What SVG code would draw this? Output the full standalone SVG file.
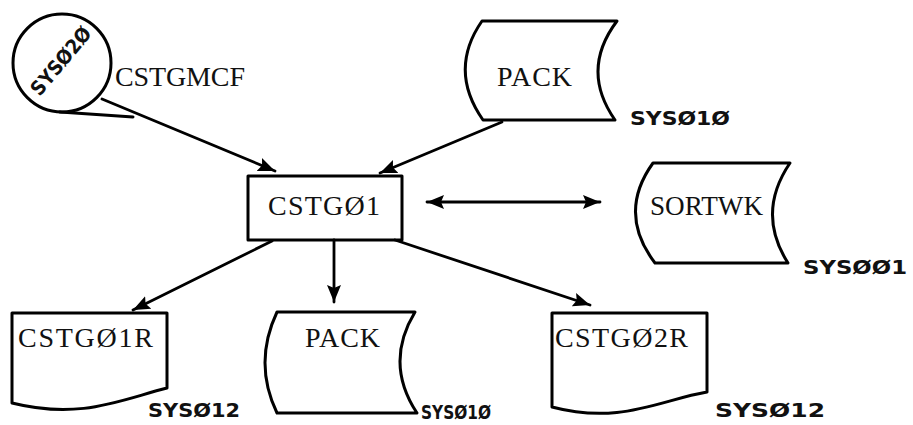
<svg xmlns="http://www.w3.org/2000/svg" width="913" height="425" viewBox="0 0 913 425">
<style>
.shape{fill:none;stroke:#000;stroke-width:3;stroke-linejoin:round;stroke-linecap:round}
.lbl{font-family:"Liberation Serif","Times New Roman",serif;font-size:28px;fill:#111}
.hand{font-family:"DejaVu Sans","Liberation Sans",sans-serif;font-weight:bold;font-size:20px;fill:#111}
.conn{fill:none;stroke:#000;stroke-width:2.8;stroke-linecap:round}
</style>
<defs>
<marker id="ah" markerUnits="userSpaceOnUse" markerWidth="20" markerHeight="16" refX="17" refY="8" orient="auto-start-reverse">
<path d="M0,1 L17,8 L0,15 L3,8 Z" fill="#000"/>
</marker>
</defs>
<rect width="913" height="425" fill="#fff"/>
<g id="connectors">
<line class="conn" x1="102" y1="99" x2="275" y2="171" marker-end="url(#ah)"/>
<line class="conn" x1="502" y1="122" x2="380" y2="173" marker-end="url(#ah)"/>
<line class="conn" x1="427" y1="202" x2="600" y2="202" marker-start="url(#ah)" marker-end="url(#ah)"/>
<line class="conn" x1="272" y1="241" x2="133" y2="310" marker-end="url(#ah)"/>
<line class="conn" x1="334" y1="240" x2="334" y2="302" marker-end="url(#ah)"/>
<line class="conn" x1="395" y1="240" x2="590" y2="305" marker-end="url(#ah)"/>
</g>
<g id="sys020">
<circle class="shape" cx="62" cy="63" r="49"/>
<line class="shape" x1="60" y1="112" x2="133" y2="117"/>
<text class="hand" x="62" y="62" text-anchor="middle" dominant-baseline="middle" transform="rotate(-50 62 62)" textLength="82" lengthAdjust="spacingAndGlyphs">SYSØ2Ø</text>
<text class="lbl" x="115" y="86" textLength="130">CSTGMCF</text>
</g>
<g id="pack-in">
<path class="shape" d="M482,21 L617,21 Q580,70 615,120 L483,120 Q448,70 482,21 Z"/>
<text class="lbl" x="497" y="86" textLength="75">PACK</text>
<text class="hand" x="630" y="125" textLength="100" lengthAdjust="spacingAndGlyphs">SYSØ1Ø</text>
</g>
<g id="cstg01">
<rect class="shape" x="248" y="176" width="154" height="64"/>
<text class="lbl" x="268" y="215" textLength="112">CSTGØ1</text>
</g>
<g id="sortwk">
<path class="shape" d="M653,163 L790,163 Q756,213 788,263 L655,263 Q617,213 653,163 Z"/>
<text class="lbl" x="650" y="215" textLength="113" lengthAdjust="spacingAndGlyphs">SORTWK</text>
<text class="hand" x="803" y="274" textLength="104" lengthAdjust="spacingAndGlyphs">SYSØØ1</text>
</g>
<g id="cstg01r">
<path class="shape" d="M12,313 L167,313 L167,388 C120,400 80,420 12,403 Z"/>
<text class="lbl" x="18" y="347" textLength="135">CSTGØ1R</text>
<text class="hand" x="148" y="417" textLength="92" lengthAdjust="spacingAndGlyphs">SYSØ12</text>
</g>
<g id="pack-out">
<path class="shape" d="M277,312 L415,312 Q384,363 417,413 L277,413 Q253,363 277,312 Z"/>
<text class="lbl" x="305" y="347" textLength="75">PACK</text>
<text class="hand" x="421" y="419" font-size="18" textLength="70" lengthAdjust="spacingAndGlyphs">SYSØ1Ø</text>
</g>
<g id="cstg02r">
<path class="shape" d="M552,313 L707,313 L707,392 C660,400 620,425 552,407 Z"/>
<text class="lbl" x="555" y="347" textLength="133">CSTGØ2R</text>
<text class="hand" x="715" y="417" textLength="110" lengthAdjust="spacingAndGlyphs">SYSØ12</text>
</g>
</svg>
